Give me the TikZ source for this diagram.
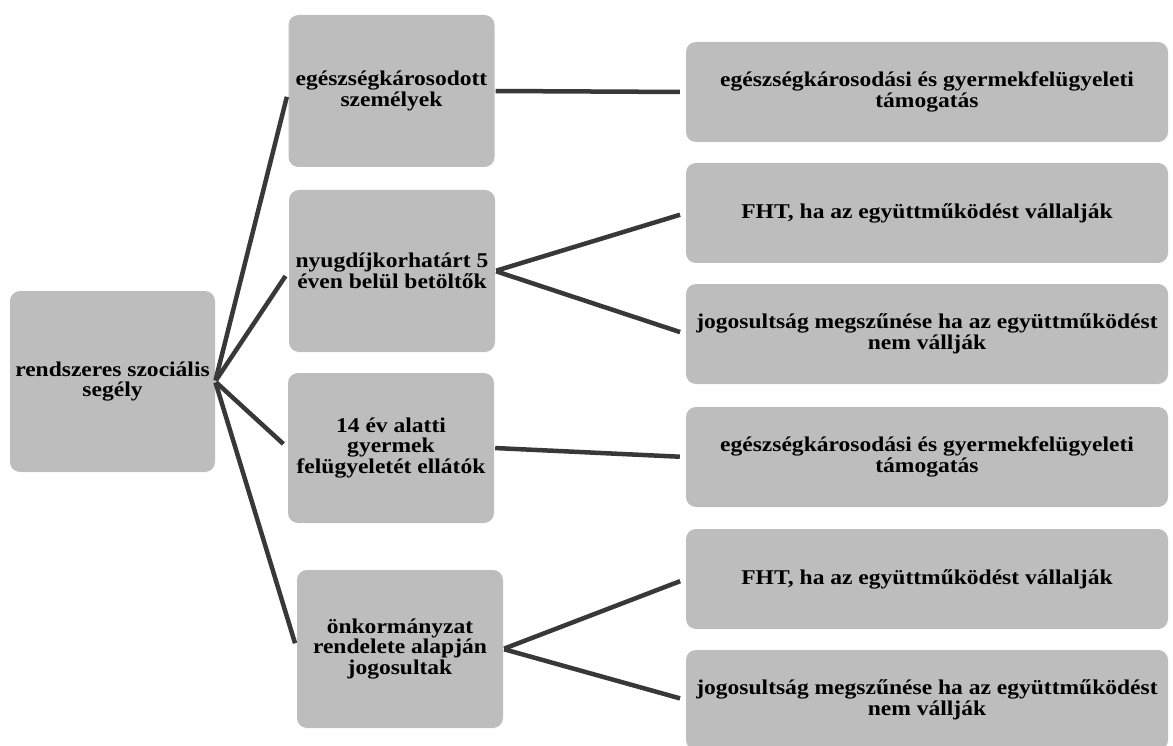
\documentclass[tikz,border=0pt]{standalone}
\usepackage{fontspec}
\setmainfont{Liberation Serif}
\newfontfamily\szeles[FakeStretch=1.12]{Liberation Serif}
\usetikzlibrary{positioning, calc}
\definecolor{boxGray}{HTML}{BDBDBD}
\definecolor{lineGray}{HTML}{383838}

\tikzset{
  ellatas/.style={fill=boxGray, rounded corners=10pt, align=center, inner sep=2pt,
    font=\szeles\fontsize{21}{20.5}\selectfont\bfseries},
  bal/.style={ellatas, minimum width=206pt},
  jobb/.style={ellatas, minimum width=482pt, minimum height=100pt},
  kapcs/.style={draw=lineGray, line width=4.5pt, shorten <=1pt, shorten >=6pt}
}

\begin{document}
\begin{tikzpicture}[x=1pt, y=-1pt]
  \useasboundingbox (0,0) rectangle (1173,746);
  % bal oszlop
  \node[bal, minimum width=205pt, minimum height=181pt] (segely) at (112.5,381.5) {rendszeres szociális\\segély};
  \node[bal, minimum height=152pt] (egk) at (391.5,91) {egészségkárosodott\\személyek};
  \node[bal, minimum height=162pt] (nyugd) at (392,271) {nyugdíjkorhatárt 5\\éven belül betöltők};
  \node[bal, minimum height=150pt] (gyerm) at (391,448) {14 év alatti\\gyermek\\felügyeletét ellátók};
  \node[bal, minimum height=158pt] (onk) at (400,649) {önkormányzat\\rendelete alapján\\jogosultak};
  % jobb oszlop
  \node[jobb] (tam1) at (927,92) {egészségkárosodási és gyermekfelügyeleti\\támogatás};
  \node[jobb] (fht1) at (927,213) {FHT, ha az együttműködést vállalják};
  \node[jobb] (megsz1) at (927,334) {jogosultság megszűnése ha az együttműködést\\nem vállják};
  \node[jobb] (tam2) at (927,457) {egészségkárosodási és gyermekfelügyeleti\\támogatás};
  \node[jobb] (fht2) at (927,579) {FHT, ha az együttműködést vállalják};
  \node[jobb] (megsz2) at (927,700) {jogosultság megszűnése ha az együttműködést\\nem vállják};
  % vonalak
  \foreach \cel in {egk, nyugd, gyerm, onk}
    \draw[kapcs] (segely.east) -- (\cel.west);
  \draw[kapcs] (egk.east) -- (tam1.west);
  \draw[kapcs] (nyugd.east) -- (fht1.west);
  \draw[kapcs] (nyugd.east) -- (megsz1.west);
  \draw[kapcs] (gyerm.east) -- (tam2.west);
  \draw[kapcs] (onk.east) -- (fht2.west);
  \draw[kapcs] (onk.east) -- (megsz2.west);
\end{tikzpicture}
\end{document}
